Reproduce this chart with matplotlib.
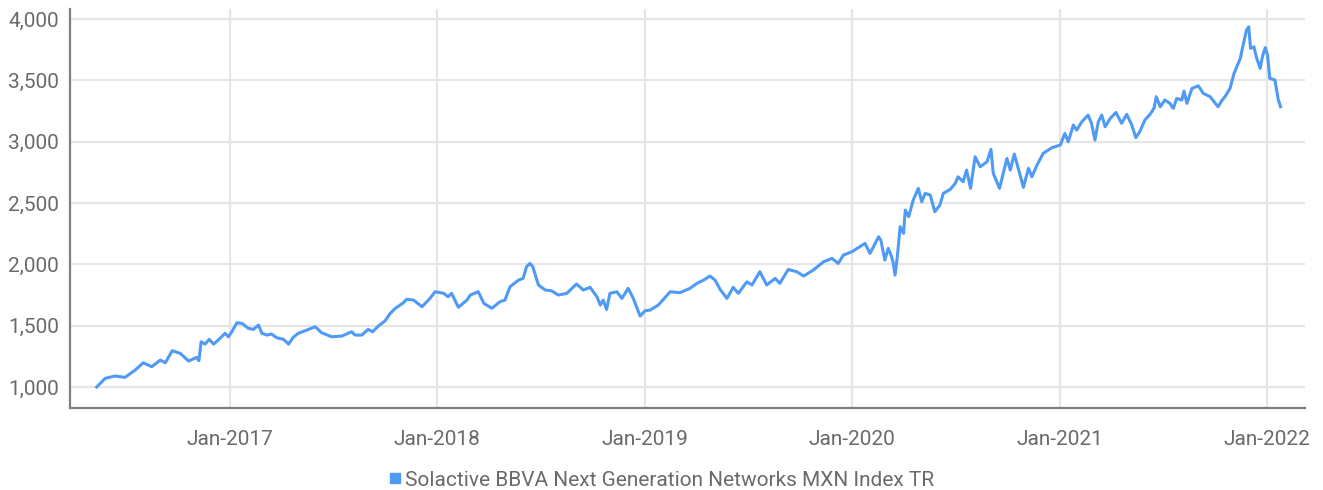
import pandas as pd
import matplotlib.pyplot as plt
import matplotlib.dates as mdates
from matplotlib.lines import Line2D
from matplotlib.ticker import FuncFormatter

# Index level
dates = [
    '2016-05-11', '2016-05-26', '2016-06-12', '2016-06-30', '2016-07-18', '2016-08-01',
    '2016-08-16', '2016-08-31', '2016-09-09', '2016-09-21', '2016-10-05', '2016-10-20',
    '2016-11-03', '2016-11-07', '2016-11-11', '2016-11-18', '2016-11-25', '2016-12-03',
    '2016-12-11', '2016-12-23', '2016-12-29', '2017-01-04', '2017-01-13', '2017-01-22',
    '2017-02-02', '2017-02-11', '2017-02-20', '2017-02-26', '2017-03-07', '2017-03-15',
    '2017-03-24', '2017-04-05', '2017-04-14', '2017-04-22', '2017-05-01', '2017-05-13',
    '2017-05-31', '2017-06-11', '2017-06-29', '2017-07-17', '2017-08-03', '2017-08-09',
    '2017-08-21', '2017-09-01', '2017-09-09', '2017-09-19', '2017-10-01', '2017-10-10',
    '2017-10-19', '2017-11-02', '2017-11-08', '2017-11-20', '2017-12-05', '2017-12-19',
    '2017-12-28', '2018-01-12', '2018-01-20', '2018-01-26', '2018-02-07', '2018-02-22',
    '2018-02-28', '2018-03-14', '2018-03-24', '2018-04-07', '2018-04-21', '2018-04-30',
    '2018-05-09', '2018-05-24', '2018-06-01', '2018-06-07', '2018-06-13', '2018-06-18',
    '2018-06-28', '2018-07-10', '2018-07-21', '2018-08-02', '2018-08-17', '2018-09-03',
    '2018-09-15', '2018-09-27', '2018-10-09', '2018-10-15', '2018-10-20', '2018-10-26',
    '2018-11-01', '2018-11-13', '2018-11-22', '2018-12-03', '2018-12-12', '2018-12-24',
    '2019-01-02', '2019-01-11', '2019-01-25', '2019-02-15', '2019-03-04', '2019-03-22',
    '2019-04-03', '2019-04-15', '2019-04-26', '2019-05-05', '2019-05-14', '2019-05-26',
    '2019-06-06', '2019-06-15', '2019-06-30', '2019-07-09', '2019-07-23', '2019-08-04',
    '2019-08-19', '2019-08-27', '2019-09-11', '2019-09-26', '2019-10-08', '2019-10-25',
    '2019-11-12', '2019-11-27', '2019-12-08', '2019-12-17', '2020-01-01', '2020-01-15',
    '2020-01-24', '2020-02-02', '2020-02-17', '2020-02-21', '2020-02-28', '2020-03-05',
    '2020-03-11', '2020-03-14', '2020-03-17', '2020-03-21', '2020-03-26', '2020-04-01',
    '2020-04-04', '2020-04-10', '2020-04-18', '2020-04-27', '2020-05-03', '2020-05-09',
    '2020-05-18', '2020-05-26', '2020-06-04', '2020-06-10', '2020-06-22', '2020-07-01',
    '2020-07-06', '2020-07-15', '2020-07-21', '2020-07-28', '2020-08-05', '2020-08-14',
    '2020-08-26', '2020-09-02', '2020-09-06', '2020-09-17', '2020-09-30', '2020-10-06',
    '2020-10-13', '2020-10-20', '2020-10-29', '2020-11-07', '2020-11-13', '2020-11-22',
    '2020-12-03', '2020-12-18', '2021-01-02', '2021-01-10', '2021-01-16', '2021-01-25',
    '2021-01-31', '2021-02-09', '2021-02-20', '2021-02-26', '2021-03-04', '2021-03-10',
    '2021-03-16', '2021-03-22', '2021-03-31', '2021-04-10', '2021-04-20', '2021-04-29',
    '2021-05-08', '2021-05-15', '2021-05-22', '2021-05-31', '2021-06-09', '2021-06-16',
    '2021-06-20', '2021-06-27', '2021-07-05', '2021-07-14', '2021-07-20', '2021-07-26',
    '2021-08-04', '2021-08-08', '2021-08-13', '2021-08-22', '2021-09-02', '2021-09-11',
    '2021-09-23', '2021-10-02', '2021-10-07', '2021-10-13', '2021-10-19', '2021-10-28',
    '2021-11-04', '2021-11-15', '2021-11-20', '2021-11-26', '2021-11-30', '2021-12-03',
    '2021-12-09', '2021-12-14', '2021-12-20', '2021-12-24', '2021-12-29', '2022-01-02',
    '2022-01-06', '2022-01-15', '2022-01-21', '2022-01-25',
]
values = [
    1000, 1071, 1090, 1079, 1139, 1198, 1166, 1220, 1198, 1296, 1275, 1212,
    1242, 1215, 1369, 1350, 1389, 1350, 1383, 1438, 1410, 1451, 1524, 1519,
    1479, 1470, 1505, 1438, 1424, 1432, 1402, 1389, 1350, 1405, 1438, 1459,
    1492, 1443, 1410, 1416, 1451, 1424, 1424, 1470, 1451, 1497, 1540, 1601,
    1642, 1687, 1715, 1709, 1655, 1723, 1777, 1764, 1736, 1764, 1650, 1709,
    1750, 1777, 1682, 1642, 1695, 1709, 1818, 1872, 1886, 1981, 2008, 1981,
    1832, 1791, 1785, 1750, 1764, 1840, 1791, 1813, 1736, 1668, 1709, 1633,
    1764, 1777, 1723, 1805, 1723, 1579, 1622, 1628, 1668, 1777, 1769, 1805,
    1845, 1872, 1905, 1872, 1796, 1723, 1813, 1764, 1858, 1832, 1940, 1832,
    1886, 1845, 1959, 1940, 1905, 1954, 2021, 2049, 2008, 2076, 2103, 2144,
    2171, 2090, 2225, 2198, 2035, 2131, 2062, 2008, 1913, 2062, 2307, 2253,
    2443, 2389, 2524, 2620, 2511, 2579, 2565, 2429, 2484, 2579, 2611, 2660,
    2714, 2674, 2769, 2620, 2877, 2796, 2837, 2938, 2742, 2620, 2864, 2769,
    2899, 2783, 2628, 2783, 2714, 2810, 2905, 2951, 2973, 3068, 3000, 3136,
    3095, 3163, 3217, 3150, 3014, 3163, 3217, 3122, 3190, 3239, 3150, 3223,
    3136, 3033, 3082, 3177, 3223, 3272, 3367, 3285, 3340, 3313, 3272, 3353,
    3340, 3413, 3313, 3435, 3456, 3394, 3367, 3313, 3285, 3332, 3367, 3435,
    3557, 3679, 3788, 3910, 3937, 3761, 3774, 3679, 3598, 3693, 3767, 3707,
    3517, 3503, 3340, 3285,
]
series_name = 'Solactive BBVA Next Generation Networks MXN Index TR'
x_ticks = ['2017-01-01', '2018-01-01', '2019-01-01', '2020-01-01', '2021-01-01', '2022-01-01']
y_ticks = [1000, 1500, 2000, 2500, 3000, 3500, 4000]

plt.rcParams['font.family'] = ['Roboto', 'DejaVu Sans']

line_color = '#4f9af5'
text_color = '#6a6a6a'

fig = plt.figure(figsize=(13.23, 4.9), dpi=100)
ax = fig.add_axes([0.0529, 0.1673, 0.9335, 0.8143])

ax.plot(pd.to_datetime(dates), values, color=line_color, linewidth=2.2, solid_joinstyle='round')

ax.set_xlim(pd.Timestamp('2016-03-25'), pd.Timestamp('2022-03-09'))
ax.set_ylim(829, 4082)
ax.set_xticks(pd.to_datetime(x_ticks))
ax.xaxis.set_major_formatter(mdates.DateFormatter('%b-%Y'))
ax.set_yticks(y_ticks)
ax.yaxis.set_major_formatter(FuncFormatter(lambda v, p: f'{v:,.0f}'))

ax.grid(True, color='#e6e6e6', linewidth=1.6)
ax.set_axisbelow(True)
ax.tick_params(length=0, labelsize=15, colors=text_color)
ax.tick_params(axis='x', pad=16)
ax.tick_params(axis='y', pad=8)

for side in ['top', 'right']:
    ax.spines[side].set_visible(False)
for side in ['left', 'bottom']:
    ax.spines[side].set_color('#808080')
    ax.spines[side].set_linewidth(1.6)

handle = Line2D([], [], color=line_color, marker='s', linestyle='none', markersize=7.5)
fig.legend([handle], [series_name], loc='center', bbox_to_anchor=(0.5, 0.02),
           frameon=False, fontsize=15, labelcolor=text_color,
           handlelength=0.6, handletextpad=0.2)

fig.savefig('out.png', dpi=100)
